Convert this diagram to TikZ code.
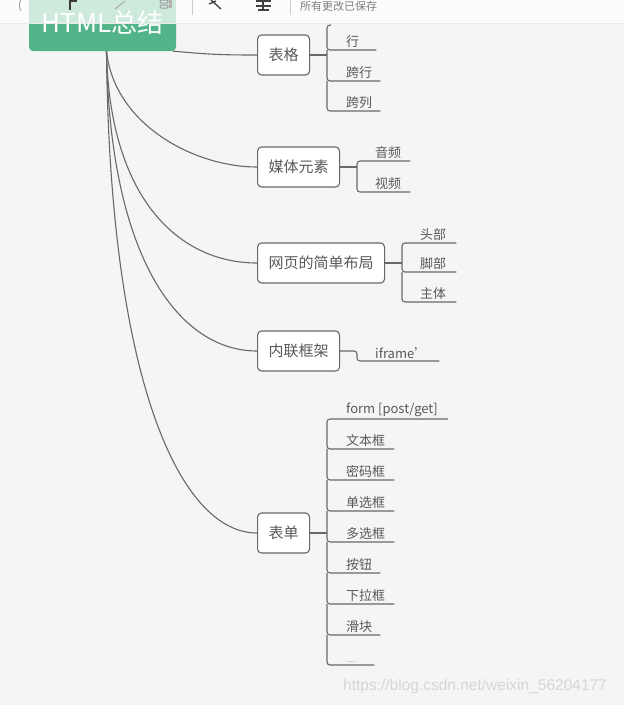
\documentclass[tikz,border=0pt]{standalone}
\usepackage{fontspec}
\setmainfont{Noto Sans CJK SC}
\newfontfamily\wmfont{Liberation Sans}
\usepackage{xcolor}
\definecolor{mmgreen}{RGB}{82,180,136}
\definecolor{mmline}{RGB}{104,104,104}
\definecolor{mmtext}{RGB}{88,88,88}
\definecolor{mmbg}{RGB}{245,245,245}
\definecolor{mmwater}{RGB}{214,214,214}
\definecolor{mmicon}{RGB}{60,60,60}
\usetikzlibrary{calc}

\tikzset{
  topic/.style={draw=mmline, line width=1.1pt, fill=white, rounded corners=4pt, anchor=west,
    minimum height=40pt, inner xsep=11pt, font=\fontsize{15}{17}\selectfont, text=mmtext},
  leaf/.style={anchor=south west, inner xsep=0pt, inner ysep=2.5pt,
    font=\fontsize{13}{15}\selectfont, text=mmtext},
  link/.style={draw=mmline, line width=1.1pt},
  bracket/.style={link, rounded corners=3pt},
}

\begin{document}
\begin{tikzpicture}[x=1pt, y=-1pt]
  \useasboundingbox (0,0) rectangle (624,705);
  \fill[mmbg] (0,0) rectangle (624,705);

  % Root topic
  \node[fill=mmgreen, rounded corners=4pt, minimum width=147pt, minimum height=56pt,
    font=\fontsize{26}{28}\selectfont, text=white] (root) at (102.5,23) {HTML总结};

  % Main branches
  \node[topic] (table) at (257,55) {表格};
  \node[topic] (media) at (257,167) {媒体元素};
  \node[topic] (layout) at (257,263) {网页的简单布局};
  \node[topic] (frame) at (257,351) {内联框架};
  \node[topic] (form) at (257,533) {表单};

  % Curved links from the root
  \draw[link] ([xshift=-3pt]root.south east) .. controls +(35,3) and +(-40,0) .. (table.west);
  \draw[link] ([xshift=4pt]root.south) .. controls +(8,74) and +(-62,0) .. (media.west);
  \draw[link] ([xshift=4pt]root.south) .. controls +(3,149) and +(-77,0) .. (layout.west);
  \draw[link] ([xshift=4pt]root.south) .. controls +(3,209) and +(-77,0) .. (frame.west);
  \draw[link] ([xshift=4pt]root.south) .. controls +(3,329) and +(-77,0) .. (form.west);

  % Bar positions of the leaf lists
  \coordinate (tabbar) at (327,25);
  \coordinate (mediabar) at (357,161);
  \coordinate (layoutbar) at (402,243);
  \coordinate (framebar) at (357,349);
  \coordinate (formbar) at (327,419);

  % Table leaves
  \node[leaf] (row) at (346,50) {行};
  \node[leaf] (rowspan) at (346,81) {跨行};
  \node[leaf] (colspan) at (346,111) {跨列};
  \draw[link] (table.east) -- (table.east -| tabbar);
  \draw[bracket] ($(tabbar)+(4,0)$) -- (tabbar) -- (tabbar |- row.south) -- ([xshift=17pt]row.south east);
  \draw[bracket] (tabbar |- row.south) -- (tabbar |- rowspan.south) -- ([xshift=8pt]rowspan.south east);
  \draw[bracket] (tabbar |- rowspan.south) -- (tabbar |- colspan.south) -- ([xshift=8pt]colspan.south east);

  % Media leaves
  \node[leaf] (audio) at (375,161) {音频};
  \node[leaf] (video) at (375,192) {视频};
  \draw[link] (media.east) -- (media.east -| mediabar);
  \draw[bracket] ([xshift=9pt]audio.south east) -- (mediabar) -- (mediabar |- video.south) -- ([xshift=9pt]video.south east);

  % Layout leaves
  \node[leaf] (head) at (420,243) {头部};
  \node[leaf] (foot) at (420,272) {脚部};
  \node[leaf] (body) at (420,302) {主体};
  \draw[link] (layout.east) -- (layout.east -| layoutbar);
  \draw[bracket] ([xshift=10pt]head.south east) -- (layoutbar) -- (layoutbar |- foot.south) -- ([xshift=10pt]foot.south east);
  \draw[bracket] (layoutbar |- foot.south) -- (layoutbar |- body.south) -- ([xshift=10pt]body.south east);

  % Inline frame leaf
  \node[leaf] (iframe) at (375,361) {iframe'};
  \draw[bracket] (frame.east) -- (frame.east -| framebar) -- (framebar |- iframe.south) -- ([xshift=12pt]iframe.south east);

  % Form leaves
  \node[leaf] (method) at (346,419) {form [post/get]};
  \node[leaf] (textbox) at (346,449) {文本框};
  \node[leaf] (password) at (346,480) {密码框};
  \node[leaf] (radio) at (346,511) {单选框};
  \node[leaf] (checkbox) at (346,542) {多选框};
  \node[leaf] (button) at (346,573) {按钮};
  \node[leaf] (select) at (346,604) {下拉框};
  \node[leaf] (slider) at (346,635) {滑块};
  \node[leaf, font=\fontsize{6}{7}\selectfont] (more) at (346,665) {......};
  \draw[link] (form.east) -- (form.east -| formbar);
  \draw[bracket] ([xshift=10pt]method.south east) -- (formbar) -- (formbar |- textbox.south) -- ([xshift=9pt]textbox.south east);
  \draw[bracket] (formbar |- textbox.south) -- (formbar |- password.south) -- ([xshift=9pt]password.south east);
  \draw[bracket] (formbar |- password.south) -- (formbar |- radio.south) -- ([xshift=9pt]radio.south east);
  \draw[bracket] (formbar |- radio.south) -- (formbar |- checkbox.south) -- ([xshift=9pt]checkbox.south east);
  \draw[bracket] (formbar |- checkbox.south) -- (formbar |- button.south) -- ([xshift=8pt]button.south east);
  \draw[bracket] (formbar |- button.south) -- (formbar |- select.south) -- ([xshift=9pt]select.south east);
  \draw[bracket] (formbar |- select.south) -- (formbar |- slider.south) -- ([xshift=8pt]slider.south east);
  \draw[bracket] (formbar |- slider.south) -- (formbar |- more.south) -- ([xshift=18pt]more.south east);

  % Watermark
  \node[font=\wmfont\fontsize{15.5}{17}\selectfont, text=mmwater, anchor=west, inner sep=0pt] (mark) at (343,686) {https://blog.csdn.net/weixin\_56204177};

  % Toolbar strip over the top
  \fill[white, opacity=0.72] (0,0) rectangle (624,23);
  \draw[black!8] (0,23) -- (624,23);
  \node[font=\fontsize{11}{12}\selectfont, text=gray, inner sep=0pt] (paren) at (20,6) {(};
  \draw[mmicon, line width=1.4pt] (70,10) -- (70,1) -- (77,1);
  \draw[gray!70, line width=1pt] (115,9) -- (125,1);
  \draw[gray!80, line width=1pt, rounded corners=1pt] (160,0) rectangle (168,3) (160,5) rectangle (168,8);
  \fill[gray!60] (169,0) rectangle (172,8);
  \draw[black!75, line width=1.3pt] (211,0) -- (221,9) (209,4) -- (216,1);
  \draw[black!75, line width=1.3pt] (256,1) -- (271,1) (256,6) -- (271,6) (263,0) -- (263,9) (258,10) -- (269,10);
  \draw[gray!40] (192,0) -- (192,15);
  \draw[gray!40] (290,0) -- (290,15);
  \node[font=\fontsize{11}{12}\selectfont, text=gray, anchor=west, inner sep=0pt] (saved) at (300,6) {所有更改已保存};
\end{tikzpicture}
\end{document}
